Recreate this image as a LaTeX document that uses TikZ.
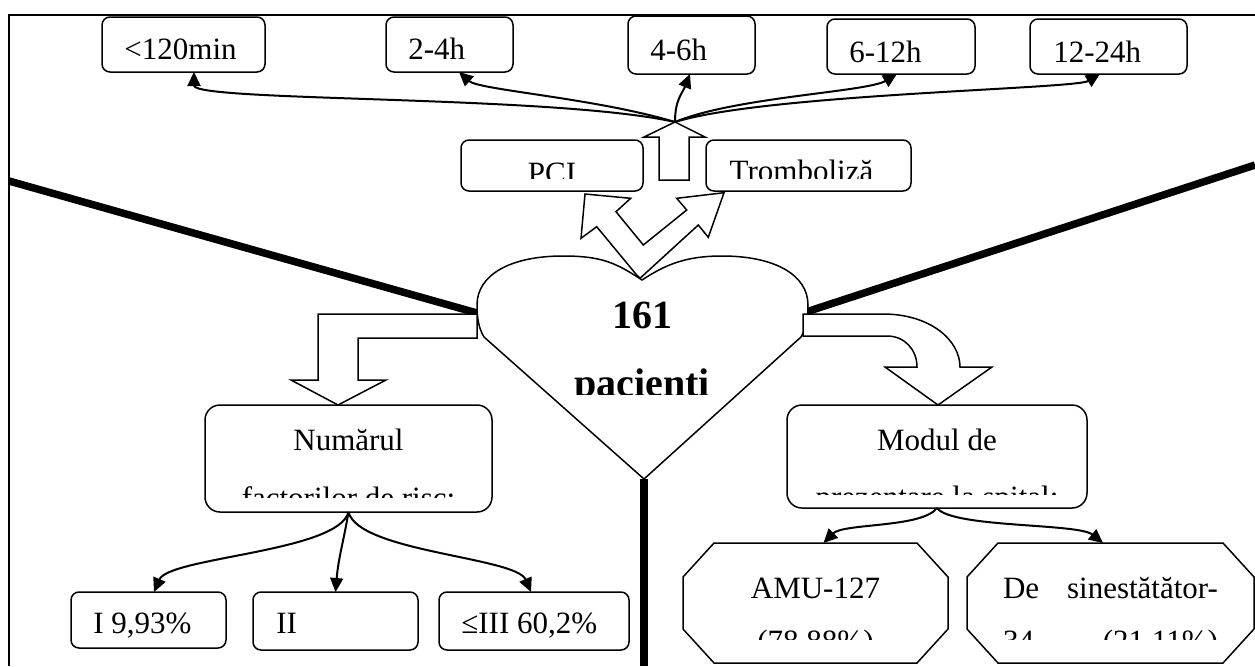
\documentclass[tikz,border=0pt]{standalone}
\usepackage{fontspec}
\setmainfont{Liberation Serif}
\usepackage{tikz}
\usetikzlibrary{arrows.meta,calc,backgrounds}
\tikzstyle{tbox}=[
  draw, rectangle, rounded corners=4pt, line width=0.75pt, fill=white, inner sep=0pt, outer sep=0pt
]
\tikzstyle{bigbox}=[
  tbox, rounded corners=7.5pt
]
\tikzstyle{spot}=[
  inner sep=0pt, outer sep=0pt
]
\tikzstyle{txt}=[
  inner sep=0pt, font=\fontsize{15.5}{18}\selectfont
]
\tikzstyle{hrt}=[
  inner sep=0pt, font=\fontsize{20}{24}\selectfont\bfseries
]
\tikzstyle{blockarrow}=[
  draw, line width=0.75pt, fill=white, line join=miter
]
\tikzstyle{thickline}=[
  line width=3.75pt
]
\tikzset{
  link/.style={-{Triangle[length=7pt,width=6.5pt]}, line width=1pt},
  octa/.style={line width=0.75pt},
}

\begin{document}
\begin{tikzpicture}[x=0.5pt,y=-0.5pt]
  \useasboundingbox (0,0) rectangle (1255,666);
  \draw [line width=0.75pt] (9,666) -- (9,15) -- (1255,15);

  \coordinate (hL) at (477,313);
  \coordinate (hR) at (803,313);
  \coordinate (hB) at (644,479);
  \coordinate (hub) at (675,122);
  \coordinate (eL) at (9,181);
  \coordinate (eR) at (1255,165);
  \coordinate (eB) at (644,666);

  \begin{scope}[on background layer]
    \draw [thickline] (eL) -- (hL);
    \draw [thickline] (eR) -- (hR);
    \draw [thickline] (hB) -- (eB);
  \end{scope}

  % heart
  \draw [line width=0.75pt, fill=white] (642,280) .. controls (615,262) and (600,256) .. (563,256)
    .. controls (510,256) and (477,275) .. (477,305) .. controls (477,322) and (480,330) .. (484,337)
    -- (hB) -- (801,337) .. controls (805,330) and (808,322) .. (808,305)
    .. controls (808,275) and (775,256) .. (722,256) .. controls (685,256) and (665,265) .. (642,280) -- cycle;
  \node (n161) at (642,328) [hrt, anchor=base] {161};
  \begin{scope}
    \clip (540,350) rectangle (745,394);
    \node (npac) at (642,396) [hrt, anchor=base] {pacienti};
  \end{scope}

  % block arrows
  \draw [blockarrow] (636.7,275) -- (596.7,226.7) -- (581,238.3) -- (585,194) -- (630.7,198.3)
    -- (616,211.7) -- (643.3,245) -- (686.7,210) -- (676.7,198.3) -- (724,192.7) -- (708.3,237.3)
    -- (698.3,225) -- (640,278.3) -- cycle;
  \draw [blockarrow] (659,180) -- (659,137) -- (644,137) -- (hub) -- (705,137) -- (689,137) -- (689,180) -- cycle;
  \draw [blockarrow] (477,314) -- (318,314) -- (318,380) -- (291,380) -- (338,405) -- (386,380)
    -- (358,380) -- (358,338) -- (477,338) -- cycle;
  \draw [blockarrow] (803,314) -- (883,314) .. controls (930,314) and (960,340) .. (960,367)
    -- (992,367) -- (938,405) -- (885,367) -- (917,367) .. controls (917,350) and (905,336) .. (887,336)
    -- (803,336) -- cycle;

  % time boxes
  \node (lt120) at (183.5,44.5) [tbox, minimum width=81.5pt, minimum height=27.5pt] {};
  \node (h24) at (449.5,44.5) [tbox, minimum width=63.5pt, minimum height=27.5pt] {};
  \node (h46) at (691.5,45) [tbox, minimum width=63.5pt, minimum height=29pt] {};
  \node (h612) at (901,46.5) [tbox, minimum width=74pt, minimum height=27.5pt] {};
  \node (h1224) at (1108.5,46.5) [tbox, minimum width=78.5pt, minimum height=27.5pt] {};
  \node (tlt120) at (124,59) [txt, anchor=base west] {<120min};
  \node (th24) at (408,59) [txt, anchor=base west] {2-4h};
  \node (th46) at (650,60) [txt, anchor=base west] {4-6h};
  \node (th612) at (849,62) [txt, anchor=base west] {6-12h};
  \node (th1224) at (1053,62) [txt, anchor=base west] {12-24h};

  % treatment boxes
  \node (pci) at (552,165.5) [tbox, minimum width=91pt, minimum height=25.5pt] {};
  \node (tromb) at (808.5,165.5) [tbox, minimum width=102.5pt, minimum height=25.5pt] {};
  \begin{scope}
    \clip (461,140) rectangle (911,178);
    \node (tpci) at (552,183.5) [txt, anchor=base] {PCI};
    \node (ttromb) at (801.5,181) [txt, anchor=base] {Tromboliză};
  \end{scope}

  \draw [link] (hub) .. controls +(-120,-27) and +(0,30) .. ([xshift=5.25pt]lt120.south);
  \draw [link] (hub) .. controls +(-80,-24) and +(20,18) .. ([xshift=4.75pt]h24.south);
  \draw [link] (hub) .. controls +(0,-22) and +(-8,20) .. ([xshift=-0.75pt]h46.south);
  \draw [link] (hub) .. controls +(60,-25) and +(-30,18) .. ([xshift=-2pt]h612.south);
  \draw [link] (hub) .. controls +(90,-28) and +(-25,15) .. ([xshift=-4.25pt]h1224.south);

  % risk factors
  \node (numar) at (348.5,458.5) [bigbox, minimum width=143.5pt, minimum height=53.5pt] {};
  \node (tnum) at (348.5,450) [txt, anchor=base] {Numărul};
  \begin{scope}
    \clip (205,405) rectangle (492,497);
    \node (tnum2) at (348.5,508) [txt, anchor=base] {factorilor de risc:};
  \end{scope}
  \node (r1) at (148.5,620) [tbox, minimum width=77.5pt, minimum height=28pt] {};
  \node (r2) at (335.5,621) [tbox, minimum width=82.5pt, minimum height=29pt] {};
  \node (r3) at (534,621) [tbox, minimum width=95pt, minimum height=29pt] {};
  \node (tr1) at (93,633) [txt, anchor=base west] {I 9,93\%};
  \node (tr2) at (276,633) [txt, anchor=base west] {II};
  \node (tr3) at (461,633) [txt, anchor=base west] {≤III 60,2\%};
  \draw [link] (numar.south) .. controls +(-10,40) and +(15,-35) .. ([xshift=2.75pt]r1.north);
  \draw [link] (numar.south) .. controls +(-5,30) and +(3,-35) .. (r2.north);
  \draw [link] (numar.south) .. controls +(10,40) and +(-15,-35) .. ([xshift=-1.5pt]r3.north);

  % arrival mode
  \node (modul) at (937,456.5) [bigbox, minimum width=150pt, minimum height=51.5pt] {};
  \node (tmod) at (937,450) [txt, anchor=base] {Modul de};
  \begin{scope}
    \clip (787,405) rectangle (1087,494);
    \node (tmod2) at (937,507) [txt, anchor=base] {prezentare la spital:};
  \end{scope}
  \node (amu) at (815.5,603) [spot, minimum width=132.5pt, minimum height=60pt] {};
  \node (sine) at (1110.5,603) [spot, minimum width=143.5pt, minimum height=60pt] {};
  \foreach \o in {amu,sine}
    \draw [octa] ($(\o.north west)+(31,0)$) -- ($(\o.north east)+(-31,0)$) -- ($(\o.north east)+(0,34)$)
      -- ($(\o.south east)+(0,-34)$) -- ($(\o.south east)+(-31,0)$) -- ($(\o.south west)+(31,0)$)
      -- ($(\o.south west)+(0,-34)$) -- ($(\o.north west)+(0,34)$) -- cycle;
  \node (tamu) at (815.5,598) [txt, anchor=base] {AMU-127};
  \node (tsine) at (1110.5,598) [txt, anchor=base] {\makebox[107.5pt][s]{De sinestătător-}};
  \begin{scope}
    \clip (683,600) rectangle (1254,639);
    \node (tamu2) at (815.5,651) [txt, anchor=base] {(78,88\%)};
    \node (tsine2) at (1110.5,651) [txt, anchor=base] {\makebox[107.5pt][s]{34 (21,11\%)}};
  \end{scope}
  \draw [link] (modul.south) .. controls +(-15,20) and +(20,-20) .. ([xshift=4pt]amu.north);
  \draw [link] (modul.south) .. controls +(15,20) and +(-25,-20) .. ([xshift=-3.75pt]sine.north);
\end{tikzpicture}
\end{document}
